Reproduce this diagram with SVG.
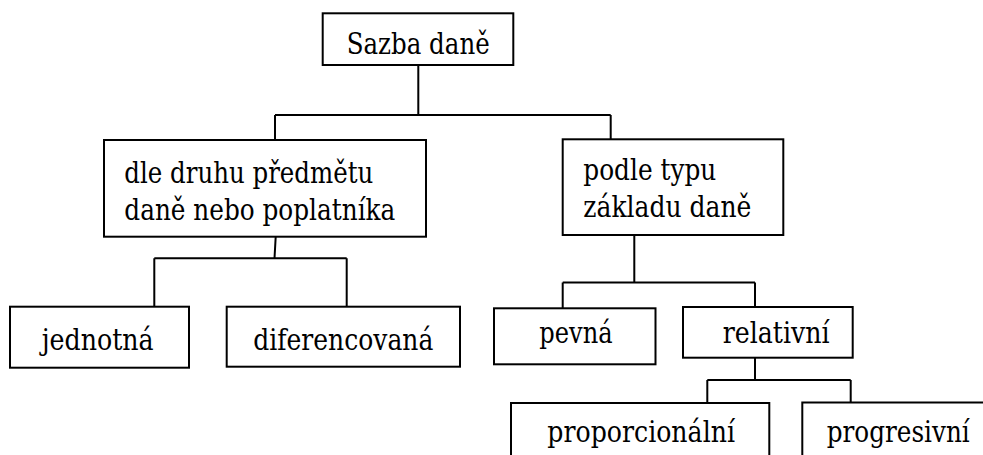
<svg xmlns="http://www.w3.org/2000/svg" width="983" height="455" viewBox="0 0 983 455">
<style>
  .box { fill: #ffffff; stroke: #000000; stroke-width: 2; }
  .conn { fill: none; stroke: #000000; stroke-width: 2; }
  .t { font-family: 'DejaVu Serif', 'Liberation Serif', serif; font-size: 29px; fill: #000000; }
</style>
<rect width="983" height="455" fill="#ffffff"/>
<g id="connectors">
  <path class="conn" d="M418.3,65 V115 M275,115 H610.7 M275,115 V140 M610.7,115 V139.3"/>
  <path class="conn" d="M275.7,236.7 L274.5,258.3 M154.3,258.3 H346.7 M154.3,258.3 V306.7 M346.7,258.3 V306.7"/>
  <path class="conn" d="M634.3,235 V282.5 M562.7,282.5 H755 M562.7,282.5 V308.3 M755,282.5 V307"/>
  <path class="conn" d="M755,357.7 V380 M707.3,380 H850.7 M707.3,380 V403 M850.7,380 V402.5"/>
</g>
<g id="root">
  <rect class="box" x="322.7" y="13.3" width="190.6" height="51.7"/>
  <text class="t" x="346.7" y="54" textLength="143" lengthAdjust="spacingAndGlyphs">Sazba daně</text>
</g>
<g id="dle-druhu">
  <rect class="box" x="104" y="140" width="322" height="96.7"/>
  <text class="t" x="124.3" y="183.3" textLength="249" lengthAdjust="spacingAndGlyphs">dle druhu předmětu</text>
  <text class="t" x="124.3" y="220" textLength="271" lengthAdjust="spacingAndGlyphs">daně nebo poplatníka</text>
</g>
<g id="podle-typu">
  <rect class="box" x="562.7" y="139.3" width="220.6" height="95.7"/>
  <text class="t" x="583.3" y="180" textLength="133" lengthAdjust="spacingAndGlyphs">podle typu</text>
  <text class="t" x="583.3" y="217" textLength="168" lengthAdjust="spacingAndGlyphs">základu daně</text>
</g>
<g id="jednotna">
  <rect class="box" x="10" y="306.7" width="179" height="61"/>
  <text class="t" x="41.7" y="350" textLength="112" lengthAdjust="spacingAndGlyphs">jednotná</text>
</g>
<g id="diferencovana">
  <rect class="box" x="226.7" y="306.7" width="233.3" height="60"/>
  <text class="t" x="253.3" y="350" textLength="180" lengthAdjust="spacingAndGlyphs">diferencovaná</text>
</g>
<g id="pevna">
  <rect class="box" x="494" y="308.3" width="161.5" height="56"/>
  <text class="t" x="539.3" y="343" textLength="73.4" lengthAdjust="spacingAndGlyphs">pevná</text>
</g>
<g id="relativni">
  <rect class="box" x="683" y="307" width="169.7" height="50.7"/>
  <text class="t" x="722.7" y="343" textLength="107" lengthAdjust="spacingAndGlyphs">relativní</text>
</g>
<g id="proporcionalni">
  <rect class="box" x="511" y="403" width="258.3" height="54"/>
  <text class="t" x="547.3" y="441.7" textLength="187.7" lengthAdjust="spacingAndGlyphs">proporcionální</text>
</g>
<g id="progresivni">
  <rect class="box" x="802.3" y="402.5" width="184" height="54.5"/>
  <text class="t" x="826.7" y="441.7" textLength="143" lengthAdjust="spacingAndGlyphs">progresivní</text>
</g>
</svg>
